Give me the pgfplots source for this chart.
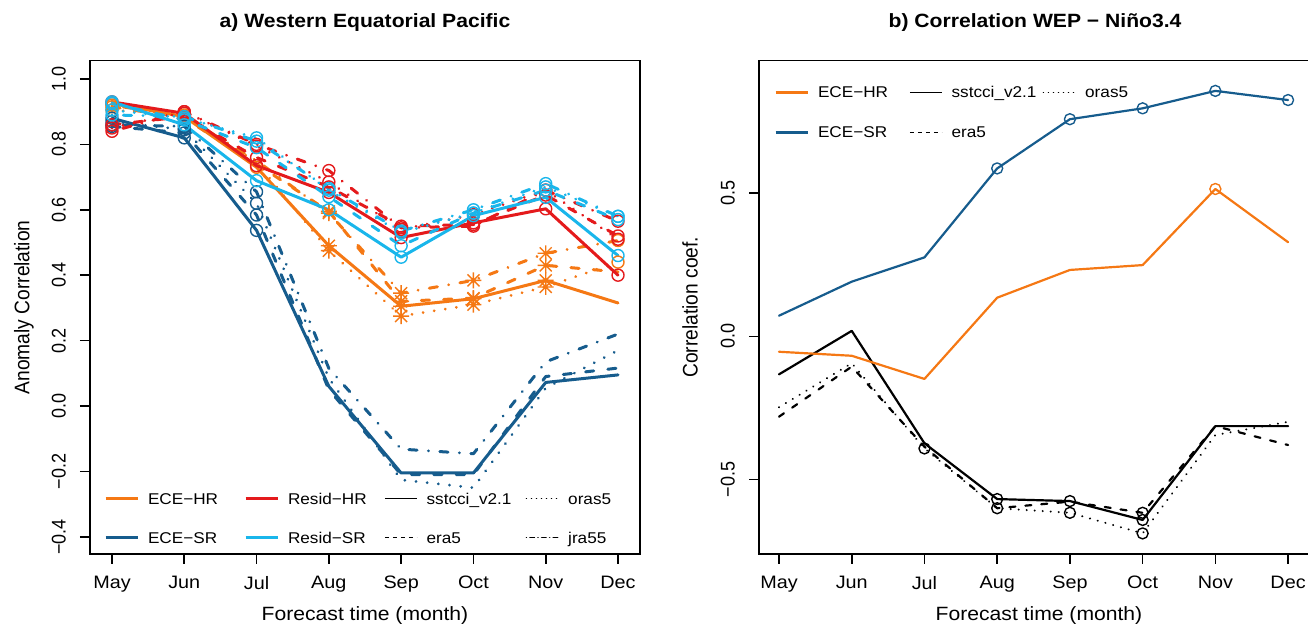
\documentclass[border=0pt]{standalone}
\usepackage{fontspec}
\setmainfont{Liberation Sans}[FakeStretch=1.1]
\newfontfamily\rotfont{Liberation Sans}
\usepackage{graphicx}
\usepackage{pgfplots}
\usepackage{pgfplotstable}
\pgfplotsset{compat=1.18}

\definecolor{cHR}{RGB}{245,120,20}
\definecolor{cSR}{RGB}{22,92,141}
\definecolor{rHR}{RGB}{228,26,28}
\definecolor{rSR}{RGB}{25,182,235}

\pgfdeclareplotmark{rast}{%
  \pgfpathmoveto{\pgfqpoint{-\pgfplotmarksize}{0pt}}\pgfpathlineto{\pgfqpoint{\pgfplotmarksize}{0pt}}%
  \pgfpathmoveto{\pgfqpoint{0pt}{-\pgfplotmarksize}}\pgfpathlineto{\pgfqpoint{0pt}{\pgfplotmarksize}}%
  \pgfpathmoveto{\pgfqpoint{-0.75\pgfplotmarksize}{-0.75\pgfplotmarksize}}\pgfpathlineto{\pgfqpoint{0.75\pgfplotmarksize}{0.75\pgfplotmarksize}}%
  \pgfpathmoveto{\pgfqpoint{-0.75\pgfplotmarksize}{0.75\pgfplotmarksize}}\pgfpathlineto{\pgfqpoint{0.75\pgfplotmarksize}{-0.75\pgfplotmarksize}}%
  \pgfusepathqstroke}

\newcommand\rl[1]{\scalebox{1}[1.1]{\rotfont #1}}
\newcommand\lt[2]{\makebox[#1][l]{\hspace{4.5pt}#2\strut}}

% ECE-HR
\pgfplotstableread{
m sst era oras jra
0 0.925 0.915 0.905 0.920
1 0.885 0.880 0.890 0.885
2 0.730 0.740 0.745 0.750
3 0.490 0.595 0.475 0.590
4 0.305 0.320 0.275 0.345
5 0.328 0.330 0.310 0.384
6 0.384 0.430 0.364 0.467
7 0.315 0.410 0.440 0.506
}\ehr
% ECE-SR
\pgfplotstableread{
m sst era oras jra
0 0.880 0.855 0.870 0.860
1 0.820 0.835 0.845 0.855
2 0.537 0.584 0.620 0.655
3 0.060 0.050 0.085 0.115
4 -0.205 -0.210 -0.226 -0.132
5 -0.205 -0.210 -0.250 -0.146
6 0.072 0.090 0.055 0.135
7 0.095 0.116 0.170 0.220
}\esr
% Resid-HR
\pgfplotstableread{
m sst era oras jra
0 0.930 0.860 0.850 0.840
1 0.895 0.885 0.900 0.900
2 0.735 0.760 0.795 0.800
3 0.653 0.670 0.685 0.720
4 0.515 0.550 0.540 0.545
5 0.560 0.555 0.585 0.550
6 0.603 0.645 0.660 0.660
7 0.400 0.520 0.510 0.565
}\rhr
% Resid-SR
\pgfplotstableread{
m sst era oras jra
0 0.930 0.925 0.905 0.890
1 0.860 0.875 0.880 0.885
2 0.689 0.790 0.820 0.810
3 0.600 0.640 0.660 0.665
4 0.455 0.490 0.530 0.535
5 0.582 0.590 0.590 0.600
6 0.638 0.660 0.670 0.680
7 0.460 0.570 0.580 0.580
}\rsr
% Correlation WEP - Nino3.4
\pgfplotstableread{
m hr sr sst era oras
0 -0.054 0.072 -0.133 -0.281 -0.248
1 -0.068 0.191 0.019 -0.106 -0.094
2 -0.149 0.276 -0.374 -0.386 -0.392
3 0.135 0.587 -0.569 -0.601 -0.601
4 0.232 0.759 -0.576 -0.578 -0.617
5 0.249 0.797 -0.642 -0.617 -0.689
6 0.515 0.858 -0.314 -0.314 -0.345
7 0.329 0.826 -0.314 -0.380 -0.299
}\wep

\pgfplotsset{
 lsst/.style={solid},
 lera/.style={dash pattern=on 4.1pt off 7.1pt},
 loras/.style={dash pattern=on 0.01pt off 5.6pt},
 ljra/.style={dash pattern=on 0.01pt off 5.7pt on 4.1pt off 5.7pt},
 dl/.style={forget plot, line width=1.5pt, line cap=round, line join=round, mark size=3pt, mark options={solid, line width=0.7pt}},
 ast/.style={forget plot, only marks, mark=rast, mark size=4pt, mark options={solid, line width=0.7pt}},
 rln/.style={forget plot, line width=1.1pt, line cap=round, line join=round, mark size=2.75pt, mark options={solid, line width=0.7pt}},
 Rax/.style={anchor=south west, scale only axis,
   axis line style={line width=0.8pt},
   tick style={black, line width=0.8pt},
   tick align=outside, major tick length=5pt,
   xtick pos=left, ytick pos=left,
   xtick={0,...,7}, xticklabels={May,Jun,Jul,Aug,Sep,Oct,Nov,Dec},
   xticklabel style={font=\fontsize{9}{11}\selectfont},
   xticklabel shift=2.5pt,
   yticklabel style={rotate=90, anchor=south, font=\fontsize{9}{11}\selectfont},
   yticklabel shift=3.5pt,
   xlabel={Forecast time (month)},
   xlabel style={at={(axis description cs:0.5,-0.1257)}, anchor=center, font=\fontsize{9.6}{11}\selectfont},
   ylabel style={anchor=center, font=\fontsize{9.6}{11}\selectfont},
   title style={at={(axis description cs:0.5,1)}, anchor=center, yshift=13pt, font=\bfseries\fontsize{9.6}{11}\selectfont},
   legend image code/.code={\draw[##1] (0pt,0pt) -- (16pt,0pt);},
   legend cell align=left,
 },
}

\begin{document}
\begin{tikzpicture}
\begin{axis}[Rax, at={(45pt,38pt)}, width=275pt, height=246.65pt,
  xmin=-0.304, xmax=7.304, ymin=-0.4527, ymax=1.056,
  ytick={-0.4,-0.2,0,0.2,0.4,0.6,0.8,1.0},
  yticklabels={\rl{−0.4},\rl{−0.2},\rl{0.0},\rl{0.2},\rl{0.4},\rl{0.6},\rl{0.8},\rl{1.0}},
  ylabel={\rl{Anomaly Correlation}},
  ylabel style={at={(axis description cs:-0.12,0.5)}},
  title={a) Western Equatorial Pacific},
  legend columns=4,
  legend style={draw=none, fill=none, at={(axis description cs:0.0255,0.1297)}, anchor=north west,
    inner sep=0pt, outer sep=0pt, row sep=11pt, column sep=0pt,
    nodes={inner sep=0pt, font=\fontsize{7.8}{10}\selectfont}},
]
\addlegendimage{cHR, line width=1.5pt}\addlegendentry{\lt{52.5pt}{ECE−HR}}
\addlegendimage{rHR, line width=1.5pt}\addlegendentry{\lt{52.5pt}{Resid−HR}}
\addlegendimage{black, line width=0.8pt}\addlegendentry{\lt{54pt}{sstcci\_v2.1}}
\addlegendimage{black, line width=0.8pt, line cap=round, dash pattern=on 0.01pt off 2.5pt}\addlegendentry{\lt{30pt}{oras5}}
\addlegendimage{cSR, line width=1.5pt}\addlegendentry{\lt{52.5pt}{ECE−SR}}
\addlegendimage{rSR, line width=1.5pt}\addlegendentry{\lt{52.5pt}{Resid−SR}}
\addlegendimage{black, line width=0.8pt, dash pattern=on 2pt off 2pt}\addlegendentry{\lt{54pt}{era5}}
\addlegendimage{black, line width=0.8pt, line cap=round, dash pattern=on 0.01pt off 1.8pt on 2.2pt off 1.8pt}\addlegendentry{\lt{30pt}{jra55}}

% ECE-HR
\addplot[cHR, dl, lsst, mark=o, mark indices={1,2,3}] table[x=m,y=sst]{\ehr};
\addplot[cHR, dl, lera, mark=o, mark indices={1,2}] table[x=m,y=era]{\ehr};
\addplot[cHR, dl, loras, mark=o, mark indices={1,2,8}] table[x=m,y=oras]{\ehr};
\addplot[cHR, dl, ljra, mark=o, mark indices={1,2,8}] table[x=m,y=jra]{\ehr};
\addplot[cHR, ast, mark indices={4,5,6,7}] table[x=m,y=sst]{\ehr};
\addplot[cHR, ast, mark indices={4,5,6,7}] table[x=m,y=era]{\ehr};
\addplot[cHR, ast, mark indices={4,5,6,7}] table[x=m,y=oras]{\ehr};
\addplot[cHR, ast, mark indices={4,5,6,7}] table[x=m,y=jra]{\ehr};
% ECE-SR
\addplot[cSR, dl, lsst, mark=o, mark indices={1,2,3}] table[x=m,y=sst]{\esr};
\addplot[cSR, dl, lera, mark=o, mark indices={1,2,3}] table[x=m,y=era]{\esr};
\addplot[cSR, dl, loras, mark=o, mark indices={1,2,3}] table[x=m,y=oras]{\esr};
\addplot[cSR, dl, ljra, mark=o, mark indices={1,2,3}] table[x=m,y=jra]{\esr};
% Resid-HR
\addplot[rHR, dl, lsst, mark=o] table[x=m,y=sst]{\rhr};
\addplot[rHR, dl, lera, mark=o] table[x=m,y=era]{\rhr};
\addplot[rHR, dl, loras, mark=o] table[x=m,y=oras]{\rhr};
\addplot[rHR, dl, ljra, mark=o] table[x=m,y=jra]{\rhr};
% Resid-SR
\addplot[rSR, dl, lsst, mark=o] table[x=m,y=sst]{\rsr};
\addplot[rSR, dl, lera, mark=o] table[x=m,y=era]{\rsr};
\addplot[rSR, dl, loras, mark=o] table[x=m,y=oras]{\rsr};
\addplot[rSR, dl, ljra, mark=o] table[x=m,y=jra]{\rsr};
\end{axis}

\begin{axis}[Rax, at={(379.5pt,38pt)}, width=280pt, height=246.65pt,
  xmin=-0.275, xmax=7.425, ymin=-0.761, ymax=0.9636,
  ytick={-0.5,0,0.5},
  yticklabels={\rl{−0.5},\rl{0.0},\rl{0.5}},
  ylabel={\rl{Correlation coef.}},
  ylabel style={at={(axis description cs:-0.123,0.5)}},
  title={b) Correlation WEP − Niño3.4},
  title style={at={(axis description cs:0.493,1)}},
  legend columns=3,
  legend style={draw=none, fill=none, at={(axis description cs:0.0268,0.9528)}, anchor=north west,
    inner sep=0pt, outer sep=0pt, row sep=11.5pt, column sep=0pt,
    nodes={inner sep=0pt, font=\fontsize{7.8}{10}\selectfont}},
]
\addlegendimage{cHR, line width=1.5pt}\addlegendentry{\lt{50pt}{ECE−HR}}
\addlegendimage{black, line width=0.8pt}\addlegendentry{\lt{50pt}{sstcci\_v2.1}}
\addlegendimage{black, line width=0.8pt, line cap=round, dash pattern=on 0.01pt off 2.5pt}\addlegendentry{\lt{30pt}{oras5}}
\addlegendimage{cSR, line width=1.5pt}\addlegendentry{\lt{50pt}{ECE−SR}}
\addlegendimage{black, line width=0.8pt, dash pattern=on 2pt off 2pt}\addlegendentry{\lt{50pt}{era5}}

\addplot[black, rln, solid, mark=o, mark indices={4,5,6}] table[x=m,y=sst]{\wep};
\addplot[black, rln, dash pattern=on 3pt off 5pt, mark=o, mark indices={4,6}] table[x=m,y=era]{\wep};
\addplot[black, rln, dash pattern=on 0.01pt off 4pt, mark=o, mark indices={3,5,6}] table[x=m,y=oras]{\wep};
\addplot[cHR, rln, mark=o, mark indices={7}] table[x=m,y=hr]{\wep};
\addplot[cSR, rln, mark=o, mark indices={4,5,6,7,8}] table[x=m,y=sr]{\wep};
\end{axis}
\pgfresetboundingbox
\path[use as bounding box] (0,0) rectangle (654pt,315pt);
\end{tikzpicture}
\end{document}
